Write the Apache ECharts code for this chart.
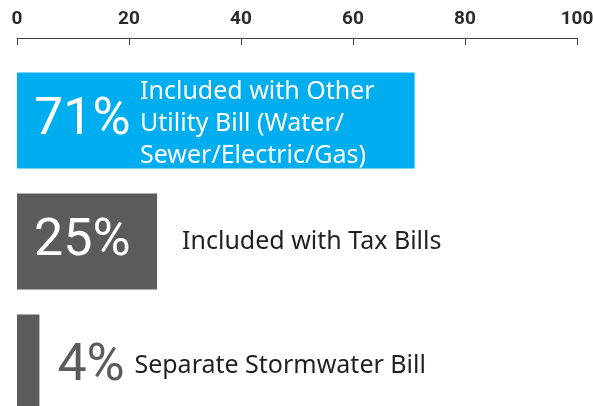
<html>
<head>
<meta charset="utf-8">
<title>Stormwater billing</title>
<script src="https://cdn.jsdelivr.net/npm/echarts@6/dist/echarts.min.js"></script>
<style>
  body { margin: 0; background: #fff; }
  #main { width: 593px; height: 406px; }
</style>
</head>
<body>
<div id="main"></div>
<script type="text/javascript">
// data
var categories = ['Included with Other\nUtility Bill (Water/\nSewer/Electric/Gas)', 'Included with Tax Bills', 'Separate Stormwater Bill'];
var values = [71, 25, 4];
var xTicks = [0, 20, 40, 60, 80, 100];

var myChart = echarts.init(document.getElementById('main'));

var barColors = ['#00aeef', '#5b5c59', '#5b5c59'];
var narrow = 'Roboto';

// percent label: inside for wide bars, outside for the thin one
var pctData = values.map(function (v, i) {
    var inside = v > 10;
    return {
        value: v,
        itemStyle: { color: barColors[i] },
        label: {
            position: inside ? 'insideLeft' : 'right',
            distance: inside ? 17 : 18,
            offset: inside ? [0, 0] : [0, 4],
            color: inside ? '#fff' : '#5b5c59'
        }
    };
});

// description label offsets
var descPos = [
    { position: 'insideLeft', distance: 123, offset: [0, 3], color: '#fff' },
    { position: 'right', distance: 25, color: '#231f20' },
    { position: 'right', distance: 95, offset: [0, 3], color: '#231f20' }
];
var descData = values.map(function (v, i) {
    return { value: v, label: descPos[i] };
});

var option = {
    animation: false,
    grid: { left: 17, right: 16, top: 60, height: 363, outerBoundsMode: 'none' },
    xAxis: {
        type: 'value',
        position: 'top',
        offset: 22,
        min: xTicks[0],
        max: xTicks[xTicks.length - 1],
        interval: 20,
        splitLine: { show: false },
        axisLine: { show: true, lineStyle: { color: '#444', width: 1 } },
        axisTick: { show: true, inside: true, length: 7, lineStyle: { color: '#444' } },
        axisLabel: {
            color: '#2b2b2b',
            fontFamily: narrow,
            fontWeight: 'bold',
            fontSize: 19,
            margin: 9
        }
    },
    yAxis: { type: 'category', data: categories, inverse: true, show: false },
    series: [
        {
            type: 'bar',
            barWidth: 96,
            data: pctData,
            label: {
                show: true,
                formatter: '{c}%',
                fontFamily: narrow,
                fontWeight: 'normal',
                fontSize: 52
            }
        },
        {
            type: 'bar',
            barWidth: 96,
            barGap: '-100%',
            data: descData,
            itemStyle: { color: 'rgba(0,0,0,0)' },
            label: {
                show: true,
                formatter: function (p) { return categories[p.dataIndex]; },
                fontFamily: '"Noto Sans", sans-serif',
                fontSize: 25,
                lineHeight: 32
            }
        }
    ]
};

myChart.setOption(option);
</script>
</body>
</html>
